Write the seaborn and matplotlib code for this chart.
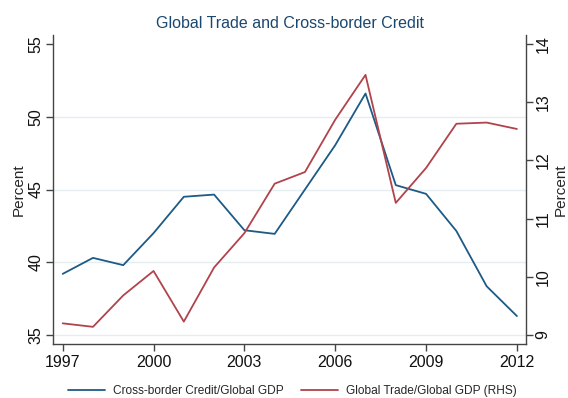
import numpy as np
import pandas as pd
import matplotlib
matplotlib.use('Agg')
import matplotlib.pyplot as plt
import seaborn as sns

years = list(range(1997, 2013))
credit = [39.2, 40.3, 39.8, 42.0, 44.5, 44.65, 42.2, 41.95, 45.0, 48.05,
          51.6, 45.3, 44.7, 42.15, 38.35, 36.3]
trade = [9.2, 9.14, 9.68, 10.1, 9.23, 10.16, 10.75, 11.6, 11.8, 12.7,
         13.47, 11.27, 11.87, 12.63, 12.65, 12.54]

left_ticks = [35, 40, 45, 50, 55]
right_ticks = [9, 10, 11, 12, 13, 14]
x_ticks = [1997, 2000, 2003, 2006, 2009, 2012]

df = pd.DataFrame({'year': years, 'credit': credit, 'trade': trade})

sns.set_style('white')
plt.rcParams['font.family'] = ['Liberation Sans', 'DejaVu Sans']

blue = '#1d5a86'
red = '#b0434b'
axcol = '#444444'

fig = plt.figure(figsize=(5.68, 3.98), dpi=100)
# axes box in pixels: left 53, right 526, top 35, bottom 344
ax = fig.add_axes([53 / 568, 1 - 344 / 398, 473 / 568, 309 / 398])
ax2 = ax.twinx()

for y in left_ticks[:-1]:
    ax.axhline(y, color='#e4edf0', lw=1.0, zorder=0)

sns.lineplot(data=df, x='year', y='credit', ax=ax, color=blue, lw=1.3,
             label='Cross-border Credit/Global GDP', legend=False)
sns.lineplot(data=df, x='year', y='trade', ax=ax2, color=red, lw=1.3,
             label='Global Trade/Global GDP (RHS)', legend=False)

ax.set_xlim(1996.68, 2012.30)
ax.set_ylim(34.38, 55.62)
ax2.set_ylim(8.845, 14.155)
ax.set_xticks(x_ticks)
ax.set_yticks(left_ticks)
ax2.set_yticks(right_ticks)

for a in (ax, ax2):
    a.spines['top'].set_visible(False)
    for s in a.spines.values():
        s.set_color(axcol)
        s.set_linewidth(1.0)
    a.tick_params(direction='out', length=5, width=1, color=axcol,
                  labelsize=11.5, labelcolor='#111111')
ax.spines['right'].set_visible(False)
ax2.spines['left'].set_visible(False)
ax2.spines['bottom'].set_visible(False)

ax.tick_params(axis='x', bottom=True, pad=3)
ax.tick_params(axis='y', left=True, pad=2)
ax2.tick_params(axis='y', right=True, pad=2)
for t in ax.get_yticklabels() + ax2.get_yticklabels():
    t.set_rotation(90)
    t.set_va('center')

ax.set_xlabel('')
ax.set_ylabel('Percent', fontsize=11, labelpad=2)
ax2.set_ylabel('Percent', fontsize=11, labelpad=2)

fig.text(0.511, 1 - 23 / 398, 'Global Trade and Cross-border Credit',
         ha='center', va='center', fontsize=11.5, color='#1a476f')

h1, l1 = ax.get_legend_handles_labels()
h2, l2 = ax2.get_legend_handles_labels()
fig.legend(h1 + h2, l1 + l2, loc='center', bbox_to_anchor=(0.515, 1 - 391 / 398),
           ncol=2, frameon=False, fontsize=8.6, handlelength=3.1,
           columnspacing=1.4, handletextpad=0.7, borderpad=0, borderaxespad=0)

fig.savefig('out.png', dpi=100)
